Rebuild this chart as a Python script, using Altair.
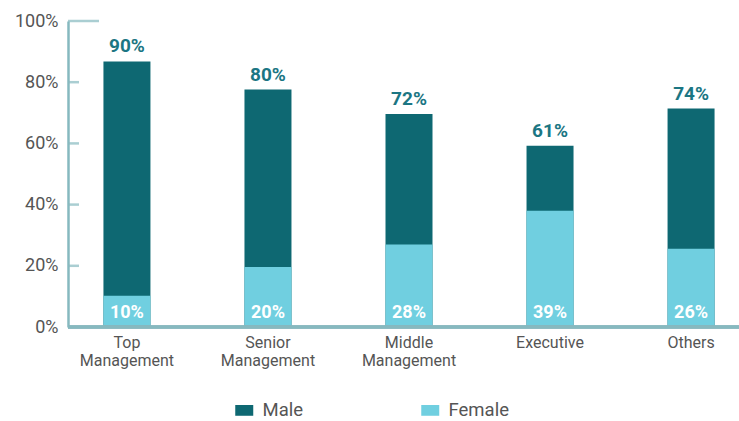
import altair as alt
import pandas as pd

categories = ["Top Management", "Senior Management", "Middle Management", "Executive", "Others"]
# bar tops as drawn in the picture (percent of axis)
male_bar_top = [86.8, 77.6, 69.6, 59.2, 71.4]
female_bar_top = [10.2, 19.6, 27.0, 38.0, 25.6]
male_labels = ["90%", "80%", "72%", "61%", "74%"]
female_labels = ["10%", "20%", "28%", "39%", "26%"]
y_ticks = [0, 20, 40, 60, 80, 100]
inner_ticks = [20, 40, 60, 80]
top_tick = 100

rows = []
for i, c in enumerate(categories):
    rows.append({"cat": c, "gender": "Male", "value": male_bar_top[i], "label": male_labels[i], "o": 0})
    rows.append({"cat": c, "gender": "Female", "value": female_bar_top[i], "label": female_labels[i], "o": 1})
df = pd.DataFrame(rows)

FONT = "Roboto"
AXIS_COL = "#86b9bf"
W, H = 671, 306

xscale = alt.Scale(domain=categories, range=[-11.5, 693.5], paddingInner=0.667, paddingOuter=0.333)
yscale = alt.Scale(domain=[0, 100], nice=False)

x_enc = alt.X("cat:N", scale=xscale, sort=categories,
              axis=alt.Axis(title=None, domain=False, ticks=False, labelAngle=0,
                            labelExpr="split(datum.label, ' ')", labelFont=FONT,
                            labelFontSize=16, labelColor="#555555", labelPadding=7,
                            labelLineHeight=18, labelBaseline="top"))
y_enc = alt.Y("value:Q", scale=yscale, stack=None,
              axis=alt.Axis(title=None, values=y_ticks, labelExpr="datum.value + '%'",
                            ticks=False, grid=False, domainColor=AXIS_COL, domainWidth=2.5,
                            labelFont=FONT, labelFontSize=18, labelColor="#555555", labelPadding=10))

base = alt.Chart(df)

bars = base.mark_bar(size=47).encode(
    x=x_enc,
    y=y_enc,
    color=alt.Color("gender:N", scale=alt.Scale(domain=["Male", "Female"], range=["#0e6872", "#70cfe0"]),
                    legend=alt.Legend(title=None, orient="none", direction="horizontal",
                                      legendX=167, legendY=380, symbolType="M-1,-0.6H1V0.6H-1Z",
                                      symbolSize=324, symbolStrokeWidth=0, labelFont=FONT,
                                      labelFontSize=18.5, labelColor="#555555", labelOffset=9,
                                      columnPadding=117, labelLimit=200)),
    order=alt.Order("o:Q"),
)

male_text = base.transform_filter(alt.datum.gender == "Male").mark_text(
    font=FONT, fontSize=19, fontWeight="bold", color="#1b7683", baseline="bottom", dy=-5
).encode(x=alt.X("cat:N", scale=xscale, sort=categories),
         y=alt.Y("value:Q", scale=yscale, stack=None), text="label:N")

female_text = base.transform_filter(alt.datum.gender == "Female").mark_text(
    font=FONT, fontSize=18, fontWeight="bold", color="white", baseline="alphabetic", dy=-9
).encode(x=alt.X("cat:N", scale=xscale, sort=categories), y=alt.datum(0), text="label:N")

tick_df = pd.DataFrame({"t": inner_ticks})
ticks = alt.Chart(tick_df).mark_tick(color=AXIS_COL, thickness=2.5, size=11).encode(
    y=alt.Y("t:Q", scale=yscale), x=alt.value(5.5))
top_df = pd.DataFrame({"t": [top_tick]})
top_mark = alt.Chart(top_df).mark_tick(color=AXIS_COL, thickness=2.5, size=31).encode(
    y=alt.Y("t:Q", scale=yscale), x=alt.value(15.5))
baseline = alt.Chart(df).mark_rule(color=AXIS_COL, strokeWidth=2.5).encode(y=alt.datum(0))

chart = alt.layer(bars, male_text, female_text, ticks, top_mark, baseline).resolve_scale(
    y="shared", x="shared"
).properties(
    width=W, height=H, background="white",
    autosize=alt.AutoSizeParams(type="none"),
    padding={"left": 68, "top": 21, "right": 0, "bottom": 94},
).configure_view(stroke=None)

chart.save("out.html", embed_options={"renderer": "svg", "actions": False})
